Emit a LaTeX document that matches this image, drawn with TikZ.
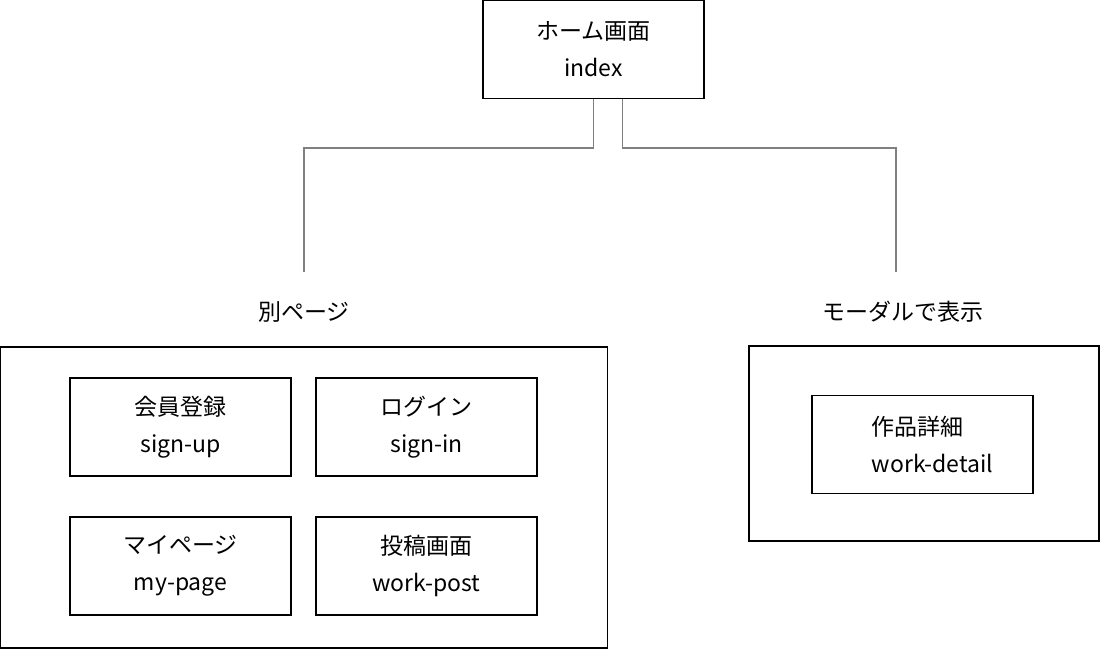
\documentclass[tikz,border=0pt]{standalone}
\usepackage{fontspec}
\setmainfont{Noto Sans CJK JP}
\usetikzlibrary{positioning}

\begin{document}
\begin{tikzpicture}[x = 0.5pt, y = -0.5pt,
    screen/.style = {draw, line width = 0.6pt, inner sep = 0pt, minimum width = 110.5pt, minimum height = 49pt,
                     align = center, font = \fontsize{11.5}{18.5}\selectfont},
    group/.style = {draw, line width = 0.6pt, inner sep = 0pt},
    caption/.style = {inner sep = 0pt, font = \fontsize{11.5}{14}\selectfont},
    link/.style = {draw, gray, line width = 0.8pt}]
      \useasboundingbox (0,0) rectangle (1100,649);

      % top page
      \node[screen] (index) at (593.5,49.5) {ホーム画面\\index};

      % groups
      \node[caption] (pagesLabel) at (304,312) {別ページ};
      \node[caption] (modalLabel) at (902.5,312) {モーダルで表示};
      \node[group, minimum width = 303.5pt, minimum height = 150.5pt] (pages) at (304,497.5) {};
      \node[group, minimum width = 175pt, minimum height = 97.5pt] (modal) at (924,443.5) {};

      % pages
      \node[screen] (signup) at (180.5,427) {会員登録\\sign-up};
      \node[screen] (signin) at (426.5,427) {ログイン\\sign-in};
      \node[screen] (mypage) at (180.5,566) {マイページ\\my-page};
      \node[screen] (post)   at (426.5,566) {投稿画面\\work-post};

      % modal
      \node[screen] (detail) at (922.5,444.5) {};
      \node[caption, align = left, anchor = west, font = \fontsize{11.5}{18.5}\selectfont] (detailText)
        at ([xshift = 30pt]detail.west) {作品詳細\\work-detail};

      % links
      \coordinate (lBend) at (304,148);
      \coordinate (lEnd)  at (304,272);
      \coordinate (rBend) at (896,148);
      \coordinate (rEnd)  at (896,272);
      \draw[link] (index.south) |- (lBend) -- (lEnd);
      \draw[link] ([xshift = 14.5pt]index.south) |- (rBend) -- (rEnd);
\end{tikzpicture}
\end{document}
